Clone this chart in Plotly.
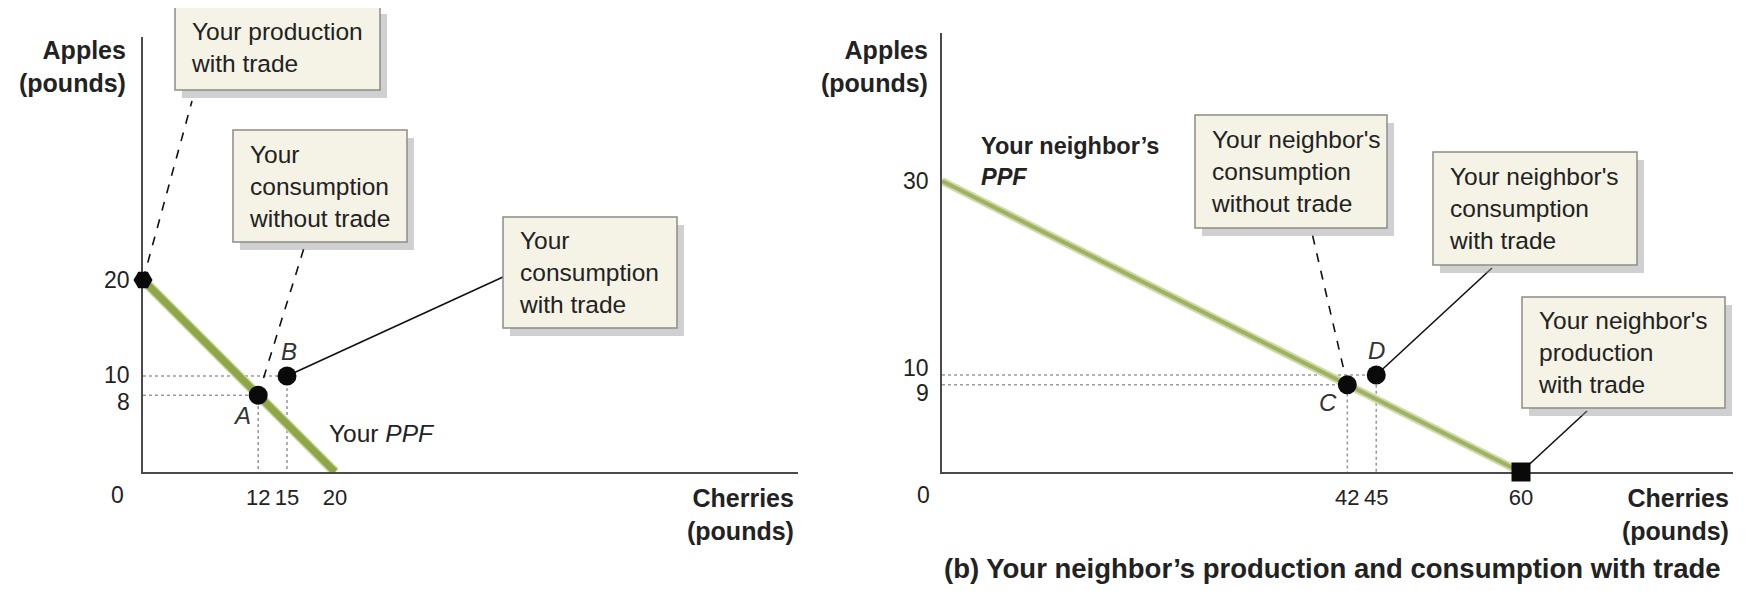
import plotly.graph_objects as go

# ---------------- data ----------------
# Panel (a): you
a_ppf_x = [0, 20]
a_ppf_y = [20, 0]
a_pt_names = ["prod", "A", "B"]
a_pt_x = [0, 12, 15]
a_pt_y = [20, 8, 10]
a_xticks = [12, 15, 20]
a_yticks = [20, 10, 8]

# Panel (b): your neighbor
b_ppf_x = [0, 60]
b_ppf_y = [30, 0]
b_pt_names = ["prod", "C", "D"]
b_pt_x = [60, 42, 45]
b_pt_y = [0, 9, 10]
b_xticks = [42, 45, 60]
b_yticks = [30, 10, 9]

a_box_texts = ["Your production<br>with trade",
               "Your<br>consumption<br>without trade",
               "Your<br>consumption<br>with trade"]
b_box_texts = ["Your neighbor's<br>production<br>with trade",
               "Your neighbor's<br>consumption<br>without trade",
               "Your neighbor's<br>consumption<br>with trade"]
caption_b = "(b) Your neighbor’s production and consumption with trade"

# ---------------- geometry / style ----------------
W, H = 1748, 591          # browser window
OFF = 8                   # default page body margin
FW, FH = W - OFF, H - OFF # figure size
FONT = "Liberation Sans, Arial, Helvetica, sans-serif"
TXT = "#222222"
BOXFONT = 24.5

PANELS = {
    "a": dict(ox=143, oy=472, top=37, right=798, sx=9.6, sy=9.6, xa="x", ya="y"),
    "b": dict(ox=942, oy=472, top=33, right=1733, sx=9.65, sy=9.7, xa="x2", ya="y2"),
}


def px_to_data(p, px, py):
    g = PANELS[p]
    return (px - g["ox"]) / g["sx"], (g["oy"] - py) / g["sy"]


def pxx(px):
    return (px - OFF) / FW


def pxy(py):
    return 1 - (py - OFF) / FH


# boxes: pixel rect, leader end pixel, dash   (index matches point index)
a_box_geo = [((175, 6, 380, 90), (192, 101), "dash"),
             ((233, 130, 407, 242), (304, 248), "dash"),
             ((503, 217, 677, 328), (503, 277), "solid")]
b_box_geo = [((1522, 297, 1725, 408), (1587, 411), "solid"),
             ((1195, 115, 1387, 228), (1312, 233), "dash"),
             ((1433, 152, 1637, 265), (1492, 268), "solid")]

# point label pixel offsets (for lettered points)
a_lbl_off = {"A": (-16, -20), "B": (2, 25)}
b_lbl_off = {"C": (-19, -18), "D": (0, 25)}
a_ytick_shift = {20: 0, 10: 1, 8: -7}
b_ytick_shift = {30: 0, 10: 7, 9: -8}

fig = go.Figure()
shapes = []
annotations = []


def build_panel(p, ppf_x, ppf_y, names, xs, ys, box_texts, box_geo, lbl_off,
                ppf_style, marker_syms, yticks, ytick_shift):
    g = PANELS[p]
    xa, ya = g["xa"], g["ya"]
    # dotted guides for consumption points
    for n, x, y in zip(names, xs, ys):
        if n == "prod":
            continue
        fig.add_trace(go.Scatter(x=[0, x, x], y=[y, y, 0], xaxis=xa, yaxis=ya,
                                 mode="lines", hoverinfo="skip",
                                 line=dict(color="#9a9aa6", width=1.6, dash="dot")))
    # PPF
    for col, wd in ppf_style:
        fig.add_trace(go.Scatter(x=ppf_x, y=ppf_y, xaxis=xa, yaxis=ya, mode="lines",
                                 hoverinfo="skip", line=dict(color=col, width=wd)))
    # leaders + boxes
    for i, (txt, (rect, end, dash)) in enumerate(zip(box_texts, box_geo)):
        ex, ey = px_to_data(p, *end)
        fig.add_trace(go.Scatter(x=[xs[i], ex], y=[ys[i], ey], xaxis=xa, yaxis=ya,
                                 mode="lines", hoverinfo="skip",
                                 line=dict(color="#111111", width=1.6, dash=dash)))
        x0, y0, x1, y1 = rect
        shapes.append(dict(type="rect", xref="paper", yref="paper", layer="above",
                           x0=pxx(x0 + 7), x1=pxx(x1 + 7), y0=pxy(y0 + 8), y1=pxy(y1 + 8),
                           fillcolor="rgba(150,150,155,0.45)", line=dict(width=0)))
        shapes.append(dict(type="rect", xref="paper", yref="paper", layer="above",
                           x0=pxx(x0), x1=pxx(x1), y0=pxy(y0), y1=pxy(y1),
                           fillcolor="#f5f3e5", line=dict(color="#8d8d86", width=1.5)))
        annotations.append(dict(text=txt, xref="paper", yref="paper",
                                x=pxx(x0 + 14), y=pxy((y0 + y1) / 2),
                                xanchor="left", yanchor="middle", align="left",
                                showarrow=False, font=dict(size=BOXFONT, color=TXT)))
    # markers
    fig.add_trace(go.Scatter(x=xs, y=ys, xaxis=xa, yaxis=ya, mode="markers",
                             hoverinfo="skip", cliponaxis=False,
                             marker=dict(color="#0a0a0a", size=19, symbol=marker_syms,
                                         line=dict(width=0))))
    # point letters
    for n, x, y in zip(names, xs, ys):
        if n in lbl_off:
            dx, dy = lbl_off[n]
            annotations.append(dict(text="<i>%s</i>" % n, x=x, y=y, xref=xa, yref=ya,
                                    xshift=dx, yshift=dy, showarrow=False,
                                    font=dict(size=24, color="#333333")))
    # y tick labels
    for v in yticks:
        annotations.append(dict(text=str(v), x=0, y=v, xref=xa, yref=ya,
                                xanchor="right", yanchor="middle", xshift=-11,
                                yshift=ytick_shift[v], showarrow=False,
                                font=dict(size=23, color=TXT)))


build_panel("a", a_ppf_x, a_ppf_y, a_pt_names, a_pt_x, a_pt_y, a_box_texts, a_box_geo,
            a_lbl_off, [("#c9d59b", 10), ("#90a548", 7)],
            ["hexagon2", "circle", "circle"], a_yticks, a_ytick_shift)
build_panel("b", b_ppf_x, b_ppf_y, b_pt_names, b_pt_x, b_pt_y, b_box_texts, b_box_geo,
            b_lbl_off, [("#cfdaa6", 8), ("#9fb263", 4)],
            ["square", "circle", "circle"], b_yticks, b_ytick_shift)

# origin "0" labels
for p, dx in (("a", -26), ("b", -19)):
    g = PANELS[p]
    annotations.append(dict(text="0", x=0, y=0, xref=g["xa"], yref=g["ya"],
                            xshift=dx, yshift=-23, showarrow=False,
                            font=dict(size=23, color=TXT)))

# axis titles
for p, rx in (("a", 128), ("b", 930)):
    annotations.append(dict(text="<b>Apples<br>(pounds)</b>", xref="paper", yref="paper",
                            x=pxx(rx), y=pxy(67), xanchor="right", yanchor="middle",
                            align="right", showarrow=False, font=dict(size=25, color=TXT)))
for p, rx in (("a", 796), ("b", 1731)):
    annotations.append(dict(text="<b>Cherries<br>(pounds)</b>", xref="paper", yref="paper",
                            x=pxx(rx), y=pxy(515), xanchor="right", yanchor="middle",
                            align="right", showarrow=False, font=dict(size=25, color=TXT)))

# PPF labels
annotations.append(dict(text="Your <i>PPF</i>", xref="paper", yref="paper",
                        x=pxx(327), y=pxy(433), xanchor="left", yanchor="middle",
                        showarrow=False, font=dict(size=24.5, color=TXT)))
annotations.append(dict(text="<b>Your neighbor’s<br><i>PPF</i></b>", xref="paper", yref="paper",
                        x=pxx(979), y=pxy(162), xanchor="left", yanchor="middle",
                        align="left", showarrow=False, font=dict(size=23.5, color=TXT)))

# caption
annotations.append(dict(text="<b>%s</b>" % caption_b, xref="paper", yref="paper",
                        x=pxx(1332), y=pxy(568), xanchor="center", yanchor="middle",
                        showarrow=False, font=dict(size=27.5, color=TXT)))


def xaxis_cfg(p, ticks):
    g = PANELS[p]
    return dict(domain=[pxx(g["ox"]), pxx(g["right"])],
                range=[0, (g["right"] - g["ox"]) / g["sx"]],
                showline=True, linecolor="#4a4a4a", linewidth=2, showgrid=False,
                zeroline=False, tickmode="array", tickvals=ticks,
                ticktext=[str(t) for t in ticks], ticks="", ticklabelstandoff=5,
                tickfont=dict(size=22, color=TXT), layer="below traces",
                fixedrange=True)


def yaxis_cfg(p):
    g = PANELS[p]
    return dict(domain=[pxy(g["oy"]), pxy(g["top"])],
                range=[0, (g["oy"] - g["top"]) / g["sy"]],
                showline=True, linecolor="#4a4a4a", linewidth=2, showgrid=False,
                zeroline=False, showticklabels=False, ticks="", layer="below traces",
                fixedrange=True)


fig.update_layout(
    width=FW, height=FH, margin=dict(l=0, r=0, t=0, b=0),
    paper_bgcolor="white", plot_bgcolor="white", showlegend=False,
    font=dict(family=FONT, color=TXT),
    xaxis=dict(xaxis_cfg("a", a_xticks), anchor="y"),
    yaxis=dict(yaxis_cfg("a"), anchor="x"),
    xaxis2=dict(xaxis_cfg("b", b_xticks), anchor="y2"),
    yaxis2=dict(yaxis_cfg("b"), anchor="x2"),
    shapes=shapes, annotations=annotations,
)

fig.write_html("out.html")
